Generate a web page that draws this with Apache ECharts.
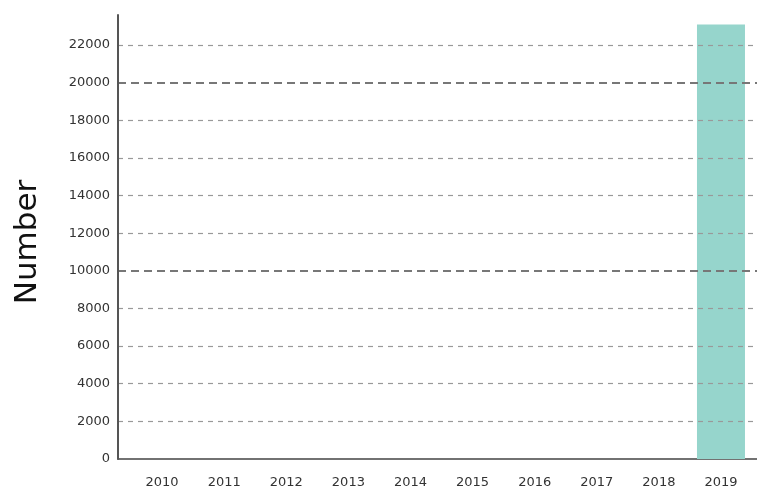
<!DOCTYPE html>
<html><head><meta charset="utf-8">
<script src="https://cdn.jsdelivr.net/npm/echarts@6/dist/echarts.min.js"></script>
<style>html,body{margin:0;padding:0;background:#fff}#c{width:757px;height:489px}</style>
</head><body><div id="c"></div>
<script>
var years = [2010,2011,2012,2013,2014,2015,2016,2017,2018,2019];
var values = [0,0,0,0,0,0,0,0,0,23100];
var yTicks = [0,2000,4000,6000,8000,10000,12000,14000,16000,18000,20000,22000];
var minorLines = [2000,4000,6000,8000,12000,14000,16000,18000,22000];
var majorLines = [10000,20000];

var chart = echarts.init(document.getElementById('c'));
chart.setOption({
  animation:false,
  backgroundColor:'#fff',
  grid:{left:118,right:0,top:15,bottom:30},
  xAxis:{
    type:'value', min:2009.29, max:2019.58,
    axisLine:{show:true,lineStyle:{color:'#444',width:1.5}},
    axisTick:{show:false},
    splitLine:{show:false},
    axisLabel:{customValues:years,color:'#333',fontSize:13,fontFamily:'DejaVu Sans',margin:17,formatter:function(v){return String(v);}}
  },
  yAxis:{
    type:'value', min:0, max:23600, interval:2000, z:5,
    axisLine:{show:true,lineStyle:{color:'#555',width:2}},
    axisTick:{show:false},
    axisLabel:{customValues:yTicks,color:'#333',fontSize:13,fontFamily:'DejaVu Sans',margin:8,formatter:function(v){return String(v);}},
    splitLine:{show:false}
  },
  series:[{
    type:'bar',
    data:years.map(function(y,i){return [y,values[i]];}),
    barWidth:48,
    itemStyle:{color:'#96d5cc'},
    markLine:{
      silent:true, symbol:'none', label:{show:false},
      data:minorLines.map(function(v){return {yAxis:v,lineStyle:{color:'#999',width:1.2,type:[5,5]}};})
        .concat(majorLines.map(function(v){return {yAxis:v,lineStyle:{color:'#777',width:2,type:[8,5]}};}))
    }
  }],
  graphic:[{
    type:'text', x:28, y:242, rotation:Math.PI/2,
    style:{text:'Number',fontSize:31,fontFamily:'DejaVu Sans',fill:'#111',align:'center',verticalAlign:'middle'}
  }]
});
</script></body></html>
